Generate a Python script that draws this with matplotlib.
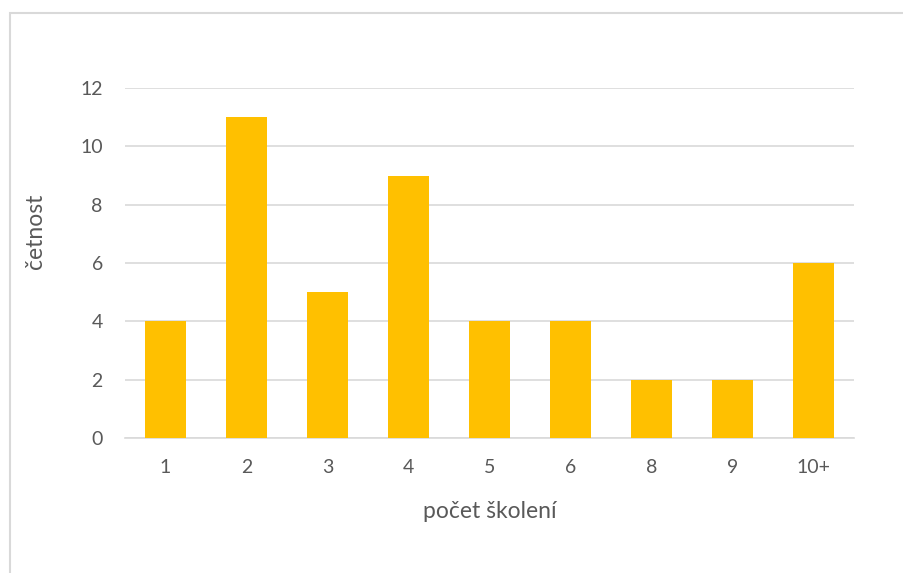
import matplotlib
matplotlib.use("Agg")
import matplotlib.pyplot as plt
from matplotlib.patches import Rectangle

categories = ["1", "2", "3", "4", "5", "6", "8", "9", "10+"]
counts = [4, 11, 5, 9, 4, 4, 2, 2, 6]
y_ticks = [0, 2, 4, 6, 8, 10, 12]

text_color = "#595959"
grid_color = "#D9D9D9"
bar_color = "#FFC000"

plt.rcParams["font.family"] = ["Lato", "DejaVu Sans"]

W, H = 904, 573
fig = plt.figure(figsize=(W / 100, H / 100), dpi=100)

# chart frame (only top and left edges fall inside the canvas)
fig.patches.append(Rectangle((10 / W, -0.1), 1.2, 1.1 - 13 / H, transform=fig.transFigure,
                             fill=False, edgecolor=grid_color, linewidth=1.5))

ax_left, ax_bottom, ax_w, ax_h = 125, 438, 729, 350
ax = fig.add_axes([ax_left / W, (H - ax_bottom) / H, ax_w / W, ax_h / H])
x = list(range(len(categories)))
ax.bar(x, counts, width=0.5, color=bar_color, zorder=3)

ax.set_xlim(-0.5, len(categories) - 0.5)
ax.set_ylim(0, 12)
ax.set_yticks(y_ticks)
ax.set_xticks(x)
ax.set_xticklabels(categories)

for s in ["top", "right", "left"]:
    ax.spines[s].set_visible(False)
ax.spines["bottom"].set_color(grid_color)
ax.spines["bottom"].set_linewidth(1.2)
ax.yaxis.grid(True, color=grid_color, linewidth=1.2, zorder=0)
ax.tick_params(axis="both", length=0, labelsize=14, colors=text_color)
ax.tick_params(axis="y", pad=16)
ax.tick_params(axis="x", pad=15)

xl = ax.set_xlabel("počet školení", fontsize=16.5, color=text_color)
ax.xaxis.set_label_coords(0.5, (ax_bottom - 518) / ax_h)
xl.set_verticalalignment("baseline")

yl = ax.set_ylabel("četnost", fontsize=16.5, color=text_color)
ax.yaxis.set_label_coords((36 - ax_left) / ax_w, (ax_bottom - 231) / ax_h)
yl.set_verticalalignment("center")

fig.savefig("out.png", dpi=100, facecolor="white")
